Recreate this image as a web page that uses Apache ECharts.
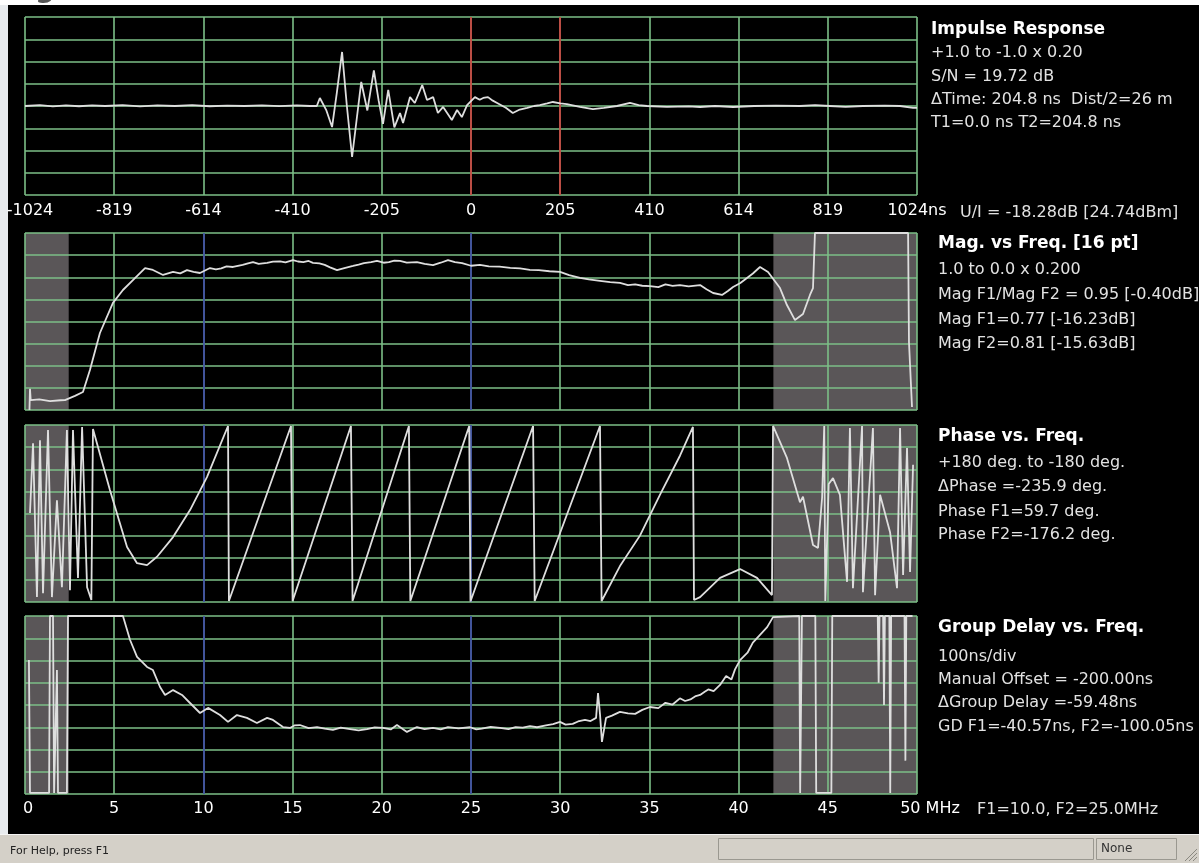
<!DOCTYPE html>
<html><head><meta charset="utf-8">
<script src="https://cdn.jsdelivr.net/npm/echarts@6/dist/echarts.min.js"></script>
<style>
html,body{margin:0;padding:0;background:#fff;}
#wrap{position:relative;width:1199px;height:863px;overflow:hidden;background:#ffffff;}
#left{position:absolute;left:0;top:5px;width:8px;height:830px;background:#e8ebee;}
#black{position:absolute;left:8px;top:5px;width:1191px;height:829px;background:#000;}
#chart{position:absolute;left:0;top:0;width:1199px;height:863px;}
</style></head>
<body><div id="wrap"><div id="left"></div><div id="black"></div><div id="chart"></div></div>
<script>
// ---------------- DATA ----------------
const timeMarkers = [0, 204.8];          // T1, T2 (ns)
const freqMarkers = [10, 25];            // F1, F2 (MHz)
const grayBands = [[0, 2.45], [41.95, 50]];

const impulseData = [
 [-1024,0.0],[-990,0.01],[-960,-0.005],[-930,0.008],[-900,-0.003],[-870,0.006],[-840,0.0],[-800,0.01],
 [-760,-0.004],[-720,0.007],[-680,0.0],[-640,0.009],[-600,-0.003],[-560,0.005],[-520,0.0],[-480,0.008],
 [-440,-0.002],[-400,0.006],[-370,0.0],[-354,0.0],[-347,0.09],[-332,-0.05],[-319,-0.236],[-308,0.15],
 [-296,0.607],[-285,0.0],[-273,-0.573],[-252,0.27],[-238,-0.05],[-223,0.40],[-212,0.06],[-202,-0.20],
 [-190,0.18],[-176,-0.24],[-163,-0.08],[-156,-0.19],[-140,0.10],[-129,0.034],[-112,0.236],[-101,0.067],
 [-87,0.10],[-76,-0.079],[-64,-0.01],[-44,-0.157],[-32,-0.045],[-21,-0.124],[-9,0.011],[9,0.10],[20,0.07],
 [28,0.09],[39,0.10],[50,0.06],[60,0.034],[80,-0.02],[96,-0.079],[112,-0.04],[129,-0.022],[145,0.0],
 [158,0.011],[175,0.03],[188,0.045],[205,0.03],[220,0.022],[250,-0.01],[280,-0.034],[305,-0.02],[335,0.0],
 [365,0.034],[385,0.01],[404,0.0],[450,-0.01],[500,-0.005],[526,-0.011],[560,0.0],[602,-0.011],[650,0.0],
 [700,0.005],[755,0.0],[790,0.01],[824,0.0],[860,-0.01],[900,0.0],[950,0.005],[985,0.0],[1015,-0.02],[1024,-0.02]
];

const magData = [
 [0.25,0.0],[0.28,0.12],[0.32,0.056],[0.8,0.06],[1.4,0.05],[2.0,0.055],[2.24,0.056],[2.8,0.08],[3.25,0.102],
 [3.64,0.226],[4.2,0.435],[4.93,0.605],[5.49,0.678],[6.05,0.734],[6.73,0.802],[7.17,0.791],[7.74,0.763],
 [8.30,0.78],[8.7,0.772],[9.08,0.79],[9.45,0.781],[9.81,0.774],[10.37,0.802],[10.7,0.794],[11.0,0.80],
 [11.3,0.811],[11.66,0.808],[12.0,0.816],[12.2,0.82],[12.5,0.829],[12.78,0.836],[13.1,0.826],[13.57,0.831],
 [13.9,0.838],[14.3,0.84],[14.6,0.834],[15.02,0.847],[15.3,0.839],[15.6,0.835],[15.9,0.842],[16.14,0.831],
 [16.5,0.828],[16.8,0.82],[17.1,0.806],[17.49,0.79],[17.9,0.802],[18.39,0.814],[18.7,0.822],[19.0,0.83],
 [19.4,0.836],[19.73,0.842],[20.1,0.832],[20.4,0.835],[20.7,0.844],[21.02,0.842],[21.4,0.833],[21.97,0.836],
 [22.4,0.826],[22.87,0.819],[23.3,0.832],[23.71,0.847],[24.1,0.836],[24.5,0.83],[25.0,0.815],[25.5,0.82],
 [26.0,0.812],[26.6,0.81],[27.2,0.803],[27.75,0.80],[28.3,0.792],[28.8,0.79],[29.4,0.784],[29.99,0.78],
 [30.5,0.762],[31.11,0.746],[31.6,0.738],[32.23,0.73],[32.8,0.722],[33.35,0.718],[33.8,0.706],[34.2,0.71],
 [34.6,0.702],[35.03,0.70],[35.5,0.694],[35.9,0.71],[36.3,0.701],[36.71,0.706],[37.2,0.698],[37.84,0.706],
 [38.2,0.682],[38.57,0.661],[39.07,0.650],[39.4,0.672],[39.69,0.695],[40.1,0.718],[40.47,0.746],[40.8,0.771],
 [41.2,0.808],[41.65,0.780],[42.32,0.689],[42.71,0.593],[43.16,0.508],[43.61,0.542],[44.0,0.650],
 [44.17,0.689],[44.28,1.0],[49.5,1.0],[49.55,0.384],[49.72,0.017]
];

const phaseData = [
 [0.28,1],[0.45,143],[0.67,-170],[0.84,149],[1.01,-162],[1.29,170],[1.51,-170],[1.79,27],[2.07,-150],
 [2.35,170],[2.52,-156],[2.69,170],[2.97,-131],[3.20,176],[3.48,-150],[3.72,-176],[3.81,172],[3.92,170],
 [4.76,48],[5.72,-68],[6.28,-101],[6.84,-105],[7.40,-88],[8.30,-48],[9.25,7],[10.20,74],[11.38,178],
 [11.43,-178],[14.91,178],[15.0,-178],[18.27,178],[18.36,-178],[21.52,178],[21.60,-178],[24.9,178],
 [24.97,-179],[28.48,178],[28.57,-178],[32.23,178],[32.32,-178],[33.35,-107],[34.47,-45],[35.59,38],
 [36.72,118],[37.44,176],[37.5,-176],[37.84,-170],[38.96,-131],[40.08,-113],[41.03,-131],[41.87,-166],
 [41.93,178],[42.71,113],[43.44,23],[43.61,34],[44.17,-64],[44.45,-70],[44.68,32],[44.8,178],[44.86,-178],
 [45.05,60],[45.29,72],[45.68,38],[46.08,-139],[46.24,174],[46.41,-152],[46.92,178],[46.97,-160],
 [47.53,174],[47.65,-166],[47.93,38],[48.49,-38],[48.88,-152],[49.05,174],[49.22,-125],[49.44,133],
 [49.61,-119],[49.78,99]
];

const gdData = [
 [0.22,202],[0.28,-395],[1.35,-395],[1.40,400],[1.57,400],[1.63,-395],[1.74,-395],[1.79,157],[1.85,-395],
 [2.35,-395],[2.41,400],[5.49,400],[5.89,292],[6.28,216],[6.84,171],[7.17,157],[7.57,81],[7.85,45],[8.30,67],
 [8.80,45],[9.25,9],[9.81,-36],[10.26,-13],[10.93,-45],[11.38,-76],[11.88,-45],[12.44,-58],[13.00,-81],
 [13.57,-58],[13.90,-67],[14.46,-99],[14.85,-103],[15.1,-92],[15.41,-90],[15.9,-104],[16.37,-99],[16.8,-106],
 [17.26,-112],[17.7,-102],[18.22,-108],[18.7,-114],[19.17,-108],[19.6,-101],[20.07,-103],[20.5,-110],
 [20.85,-90],[21.41,-121],[21.97,-99],[22.4,-108],[22.87,-103],[23.3,-110],[23.71,-99],[24.3,-105],
 [24.94,-100],[25.3,-110],[25.6,-106],[26.1,-98],[26.63,-103],[27.1,-108],[27.5,-99],[27.9,-102],[28.31,-95],
 [28.7,-100],[29.2,-92],[29.6,-86],[29.99,-76],[30.3,-88],[30.7,-85],[31.0,-74],[31.39,-67],[31.7,-72],
 [32.01,-58],[32.12,54],[32.23,-40],[32.34,-166],[32.57,-58],[32.9,-48],[33.35,-31],[33.8,-38],[34.2,-40],
 [34.6,-22],[35.03,-9],[35.5,-14],[35.9,10],[36.3,2],[36.71,30],[37.0,18],[37.3,25],[37.6,40],[37.84,45],
 [38.1,60],[38.3,70],[38.6,62],[38.96,90],[39.3,130],[39.6,115],[39.8,160],[40.08,202],[40.5,235],
 [40.8,280],[41.2,315],[41.6,350],[41.93,395],[43.4,400],[43.45,-395],[43.55,400],[44.3,400],[44.35,-395],
 [45.2,-395],[45.25,400],[47.8,400],[47.85,100],[47.9,400],[48.1,400],[48.15,0],[48.2,400],[48.45,400],
 [48.5,-395],[48.55,400],[49.3,400],[49.35,-250],[49.4,400],[49.75,400]
];

const irInfo = ['Impulse Response', '+1.0 to -1.0 x 0.20', 'S/N = 19.72 dB', 'ΔTime: 204.8 ns  Dist/2=26 m', 'T1=0.0 ns T2=204.8 ns'];
const magInfo = ['Mag. vs Freq. [16 pt]', '1.0 to 0.0 x 0.200', 'Mag F1/Mag F2 = 0.95 [-0.40dB]', 'Mag F1=0.77 [-16.23dB]', 'Mag F2=0.81 [-15.63dB]'];
const phaseInfo = ['Phase vs. Freq.', '+180 deg. to -180 deg.', 'ΔPhase =-235.9 deg.', 'Phase F1=59.7 deg.', 'Phase F2=-176.2 deg.'];
const gdInfo = ['Group Delay vs. Freq.', '100ns/div', 'Manual Offset = -200.00ns', 'ΔGroup Delay =-59.48ns', 'GD F1=-40.57ns, F2=-100.05ns'];
const uiText = 'U/I = -18.28dB [24.74dBm]';
const fMarkText = 'F1=10.0, F2=25.0MHz';
const statusText = 'For Help, press F1';
const statusRight = 'None';

// ---------------- STYLE / LAYOUT ----------------
const FONT = '"DejaVu Sans", sans-serif';
const gridColor = '#7cbf87';
const traceColor = '#dedede';
const splitLine = {show:true, lineStyle:{color:gridColor, width:1.6}};
const tickFont = {color:'#ffffff', fontSize:16, fontFamily:FONT};
const panels = [
  {left:25, top:17, width:892, height:178},
  {left:25, top:233, width:892, height:177},
  {left:25, top:425, width:892, height:177},
  {left:25, top:616, width:892, height:178}
];
const grid = panels.map(p => Object.assign({outerBoundsMode:'none', containLabel:false}, p));

function freqX(i, labels) {
  return {gridIndex:i, type:'value', min:0, max:50, interval:5, z:3,
    axisLine:{show:false}, axisTick:{show:false}, splitLine,
    axisLabel: labels ? {show:true, ...tickFont, margin:7, showMinLabel:true, showMaxLabel:true,
      formatter: v => v === 50 ? '{last|50 MHz}' : (v === 0 ? '{first|0}' : String(v)),
      rich:{last:{...tickFont, padding:[0,0,0,26]}, first:{...tickFont, padding:[0,0,0,6]}}} : {show:false}};
}
function valY(i, min, max, interval) {
  return {gridIndex:i, type:'value', min, max, interval, z:3,
    axisLine:{show:false}, axisTick:{show:false}, axisLabel:{show:false}, splitLine};
}
const xAxis = [
  {gridIndex:0, type:'value', min:-1024, max:1024, interval:204.8, z:3,
   axisLine:{show:false}, axisTick:{show:false}, splitLine,
   axisLabel:{...tickFont, margin:8, showMinLabel:true, showMaxLabel:true,
     formatter: v => { const r = Math.round(v); return r === 1024 ? '1024ns' : (r === -1024 ? '{first|-1024}' : String(r)); },
     rich:{first:{...tickFont, padding:[0,0,0,10]}}}},
  freqX(1, false), freqX(2, false), freqX(3, true)
];
const yAxis = [valY(0,-1,1,0.25), valY(1,0,1,0.125), valY(2,-180,180,45), valY(3,-400,400,100)];

function markLines(vals, color) {
  return {silent:true, symbol:['none','none'], label:{show:false}, z:4, animation:false,
    lineStyle:{color, width:1.6, type:'solid'}, emphasis:{disabled:true},
    data: vals.map(v => ({xAxis:v}))};
}
const markArea = {silent:true, z:1, animation:false, itemStyle:{color:'#5a5658'},
  data: grayBands.map(b => [{xAxis:b[0]}, {xAxis:b[1]}])};

function lineSeries(i, data, extra) {
  return Object.assign({type:'line', xAxisIndex:i, yAxisIndex:i, data, showSymbol:false, symbol:'none',
    lineStyle:{color:traceColor, width:1.8}, z:6, silent:true, animation:false}, extra);
}
const series = [
  lineSeries(0, impulseData, {markLine: markLines(timeMarkers, '#d23c3c')}),
  lineSeries(1, magData, {markLine: markLines(freqMarkers, '#3a44a8'), markArea}),
  lineSeries(2, phaseData, {markLine: markLines(freqMarkers, '#3a44a8'), markArea}),
  lineSeries(3, gdData, {markLine: markLines(freqMarkers, '#3a44a8'), markArea})
];

function textBlock(lines, x, ys) {
  return lines.map((s, k) => ({type:'text', x, y:ys[k], silent:true,
    style:{text:s, fill: k === 0 ? '#ffffff' : '#e2e2e2',
      font: (k === 0 ? 'bold 17px ' : '16px ') + FONT, verticalAlign:'middle', align:'left'}}));
}
const elements = [].concat(
  textBlock(irInfo, 931, [30,53,77,100,123]),
  textBlock(magInfo, 938, [244,270,295,320,344]),
  textBlock(phaseInfo, 938, [437,463,487,512,535]),
  textBlock(gdInfo, 938, [628,657,680,703,727]),
  [
    {type:'text', x:960, y:213, silent:true, style:{text:uiText, fill:'#e2e2e2', font:'16px '+FONT, verticalAlign:'middle'}},
    {type:'text', x:977, y:810, silent:true, style:{text:fMarkText, fill:'#e2e2e2', font:'16px '+FONT, verticalAlign:'middle'}},
    {type:'text', x:35, y:-24, silent:true, style:{text:'g', fill:'#555555', font:'bold 28px '+FONT, verticalAlign:'top'}},
    // status bar
    {type:'rect', shape:{x:0, y:834, width:1199, height:29}, style:{fill:'#d4d0c8'}, silent:true},
    {type:'line', shape:{x1:0, y1:834.5, x2:1199, y2:834.5}, style:{stroke:'#f4f4f4', lineWidth:1}, silent:true},
    {type:'rect', shape:{x:718.5, y:838.5, width:375, height:21}, style:{fill:'#d4d0c8', stroke:'#9a9890', lineWidth:1}, silent:true},
    {type:'rect', shape:{x:1096.5, y:838.5, width:80, height:21}, style:{fill:'#d4d0c8', stroke:'#9a9890', lineWidth:1}, silent:true},
    {type:'text', x:10, y:851, silent:true, style:{text:statusText, fill:'#222222', font:'11px '+FONT, verticalAlign:'middle'}},
    {type:'text', x:1101, y:849, silent:true, style:{text:statusRight, fill:'#333333', font:'12px '+FONT, verticalAlign:'middle'}},
    {type:'line', shape:{x1:1185, y1:861, x2:1197, y2:849}, style:{stroke:'#8a8880', lineWidth:1}, silent:true},
    {type:'line', shape:{x1:1189, y1:861, x2:1197, y2:853}, style:{stroke:'#8a8880', lineWidth:1}, silent:true},
    {type:'line', shape:{x1:1193, y1:861, x2:1197, y2:857}, style:{stroke:'#8a8880', lineWidth:1}, silent:true}
  ]
);

const chart = echarts.init(document.getElementById('chart'), null, {renderer:'canvas'});
chart.setOption({
  backgroundColor:'transparent',
  animation:false,
  grid, xAxis, yAxis, series,
  graphic:{elements}
});
</script></body></html>
